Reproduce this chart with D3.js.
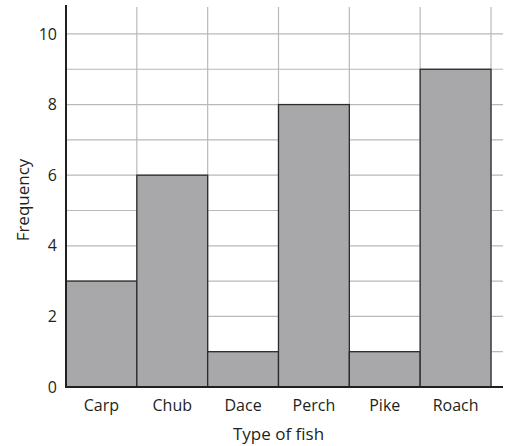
<!DOCTYPE html>
<html>
<head>
<meta charset="utf-8">
<script src="https://cdn.jsdelivr.net/npm/d3@7"></script>
<style>
  body { margin: 0; background: #fff; }
  text { font-family: "Open Sans", "Noto Sans", sans-serif; fill: #231f20; }
</style>
</head>
<body>
<svg></svg>
<script>
var fish = ["Carp", "Chub", "Dace", "Perch", "Pike", "Roach"];
var frequency = [3, 6, 1, 8, 1, 9];
var yTicks = [0, 2, 4, 6, 8, 10];
var gridValues = [1, 2, 3, 4, 5, 6, 7, 8, 9, 10];

var svgWidth = 505;
var svgHeight = 446;

var svg = d3.select("svg")
  .attr("width", svgWidth)
  .attr("height", svgHeight);

// plot box (note: "top" is a reserved window global, so use plot*)
var plotLeft = 66, plotRight = 491, plotTop = 5, plotBottom = 387;

var x = d3.scaleBand()
  .domain(fish)
  .range([plotLeft, plotRight])
  .padding(0);

var y = d3.scaleLinear()
  .domain([0, 10.82])
  .range([plotBottom, plotTop]);

// horizontal grid
svg.selectAll("line.hgrid")
  .data(gridValues)
  .enter()
  .append("line")
  .attr("class", "hgrid")
  .attr("x1", plotLeft)
  .attr("x2", 503)
  .attr("y1", function(d) { return y(d); })
  .attr("y2", function(d) { return y(d); })
  .attr("stroke", "#b9b9bb")
  .attr("stroke-width", 1.2);

// vertical grid at bar edges
svg.selectAll("line.vgrid")
  .data(fish)
  .enter()
  .append("line")
  .attr("class", "vgrid")
  .attr("x1", function(d) { return x(d) + x.bandwidth(); })
  .attr("x2", function(d) { return x(d) + x.bandwidth(); })
  .attr("y1", 7)
  .attr("y2", plotBottom)
  .attr("stroke", "#b9b9bb")
  .attr("stroke-width", 1.2);

// bars
svg.selectAll("rect")
  .data(frequency)
  .enter()
  .append("rect")
  .attr("x", function(d, i) { return x(fish[i]); })
  .attr("y", function(d) { return y(d); })
  .attr("width", x.bandwidth())
  .attr("height", function(d) { return plotBottom - y(d); })
  .attr("fill", "#a8a8ab")
  .attr("stroke", "#2b2b2b")
  .attr("stroke-width", 1.3);

// axes
var yAxis = d3.axisLeft(y).tickValues(yTicks).tickSize(0).tickPadding(9);
var gy = svg.append("g")
  .attr("transform", "translate(" + plotLeft + ",0)")
  .call(yAxis);
gy.select(".domain").remove();
gy.selectAll("text")
  .style("font-size", "16px")
  .attr("fill", "#231f20");

var xAxis = d3.axisBottom(x).tickSize(0).tickPadding(13);
var gx = svg.append("g")
  .attr("transform", "translate(0," + plotBottom + ")")
  .call(xAxis);
gx.select(".domain").remove();
gx.selectAll("text")
  .style("font-size", "16px")
  .attr("fill", "#231f20");

svg.append("line")
  .attr("x1", plotLeft).attr("x2", plotLeft)
  .attr("y1", plotTop).attr("y2", plotBottom + 1)
  .attr("stroke", "#231f20")
  .attr("stroke-width", 2);

svg.append("line")
  .attr("x1", plotLeft - 1).attr("x2", 503)
  .attr("y1", plotBottom).attr("y2", plotBottom)
  .attr("stroke", "#231f20")
  .attr("stroke-width", 2);

// labels
svg.append("text")
  .attr("transform", "translate(29," + ((plotTop + plotBottom) / 2 + 4) + ") rotate(-90)")
  .attr("text-anchor", "middle")
  .style("font-size", "17px")
  .text("Frequency");

svg.append("text")
  .attr("x", (plotLeft + plotRight) / 2)
  .attr("y", 440)
  .attr("text-anchor", "middle")
  .style("font-size", "17px")
  .text("Type of fish");
</script>
</body>
</html>
